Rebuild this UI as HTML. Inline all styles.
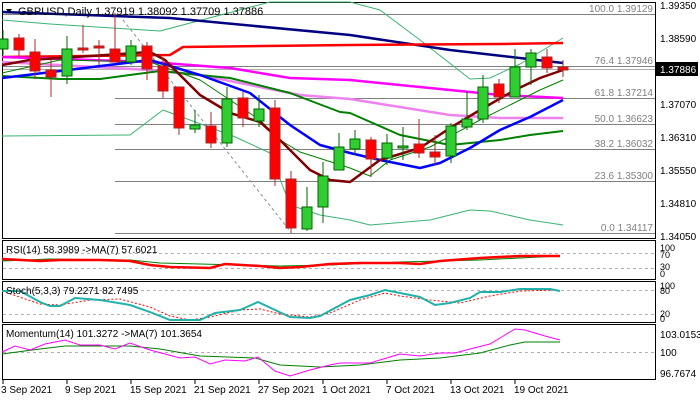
<!DOCTYPE html>
<html><head><meta charset="utf-8"><style>
body{margin:0;background:#fff;}
svg{display:block;font-family:"Liberation Sans",sans-serif;}
</style></head><body>
<svg width="700" height="400" viewBox="0 0 700 400" xmlns="http://www.w3.org/2000/svg">
<rect width="700" height="400" fill="#fff"/>
<!-- panel borders -->
<g fill="none" stroke="#000" stroke-width="1">
<rect x="2.5" y="2.5" width="653" height="236"/>
<rect x="2.5" y="240.5" width="653" height="39"/>
<rect x="2.5" y="281.5" width="653" height="41"/>
<rect x="2.5" y="324.5" width="653" height="55"/>
</g>
<!-- fib lines -->
<g stroke="#808080" stroke-width="1">
<line x1="3" y1="14.5" x2="655" y2="14.5"/>
<line x1="3" y1="66.5" x2="655" y2="66.5"/>
<line x1="3" y1="69.5" x2="655" y2="69.5" stroke="#b0b0b0"/>
<line x1="115" y1="98.5" x2="655" y2="98.5"/>
<line x1="115" y1="124.5" x2="655" y2="124.5"/>
<line x1="115" y1="149.5" x2="655" y2="149.5"/>
<line x1="115" y1="181.5" x2="655" y2="181.5"/>
<line x1="115" y1="233.5" x2="655" y2="233.5"/>
</g>
<line x1="123" y1="20" x2="290" y2="231" stroke="#8090a0" stroke-dasharray="3,3"/>
<g font-size="10" fill="#808080" text-anchor="end">
<text x="653" y="12">100.0 1.39129</text>
<text x="653" y="64">76.4 1.37946</text>
<text x="653" y="96">61.8 1.37214</text>
<text x="653" y="122">50.0 1.36623</text>
<text x="653" y="147">38.2 1.36032</text>
<text x="653" y="179">23.6 1.35300</text>
<text x="653" y="231">0.0 1.34117</text>
</g>
<!-- MA lines -->
<g fill="none" stroke-linejoin="round">
<polyline stroke="#3cb371" stroke-width="1" points="2,20 50,24 160,31 270,2 350,2 380,10 420,40 470,79 490,78 520,64 563,38"/>
<polyline stroke="#3cb371" stroke-width="1" points="2,136 130,135 163,110 233,136 270,153 290,205 320,215 350,220 370,225 430,220 470,210 490,211 530,220 563,225"/>
<polyline stroke="#000080" stroke-width="2.5" points="2,12 170,18 350,35 450,50 563,63"/>
<polyline stroke="#ff0000" stroke-width="2.5" points="2,57 170,55 183,47 350,45 500,44 563,43"/>
<polyline stroke="#ff00ff" stroke-width="2.5" points="2,57 150,62 230,68 290,78 350,80 450,90 500,95 563,98"/>
<polyline stroke="#ee82ee" stroke-width="2.5" points="2,62 150,70 200,75 300,95 350,99 450,115 500,118 563,118"/>
<polyline stroke="#008000" stroke-width="2" points="2,76 60,79 100,79 160,71 230,78 290,93 340,112 350,113 400,135 450,145 500,140 530,135 563,131"/>
<polyline stroke="#008000" stroke-width="1" points="2,73 60,60 150,62 200,80 230,100 260,120 280,140 300,152 350,168 370,176 390,160 430,147 480,120 510,105 540,90 563,80"/>
<polyline stroke="#0000ff" stroke-width="2.5" points="2,78 60,71 150,60 200,75 250,93 290,125 320,145 350,153 380,160 420,168 440,163 470,148 500,130 530,117 563,100"/>
<polyline stroke="#800000" stroke-width="2.5" points="2,65 30,60 150,52 165,60 200,95 230,113 260,122 280,140 310,170 330,180 350,182 380,160 420,148 450,128 480,110 515,90 540,78 563,70"/>
</g>
<!-- candles -->
<g stroke-width="1">
<g stroke="#006400" fill="#32cd32">
<line x1="3" y1="30" x2="3" y2="55"/><rect x="-2" y="39" width="10" height="10"/>
<line x1="67" y1="36" x2="67" y2="84"/><rect x="62" y="49" width="10" height="27"/>
<line x1="131" y1="40" x2="131" y2="65"/><rect x="126" y="46" width="10" height="16"/>
<line x1="195" y1="110" x2="195" y2="133"/><rect x="190" y="125" width="10" height="4"/>
<line x1="227" y1="87" x2="227" y2="147"/><rect x="222" y="99" width="10" height="44"/>
<line x1="259" y1="95" x2="259" y2="127"/><rect x="254" y="109" width="10" height="12"/>
<line x1="307" y1="187" x2="307" y2="231"/><rect x="302" y="207" width="10" height="22"/>
<line x1="323" y1="162" x2="323" y2="223"/><rect x="318" y="176" width="10" height="31"/>
<line x1="339" y1="133" x2="339" y2="170"/><rect x="334" y="147" width="10" height="23"/>
<line x1="355" y1="130" x2="355" y2="155"/><rect x="350" y="139" width="10" height="10"/>
<line x1="387" y1="134" x2="387" y2="165"/><rect x="382" y="143" width="10" height="15"/>
<line x1="403" y1="127" x2="403" y2="160"/><rect x="398" y="146" width="10" height="2"/>
<line x1="451" y1="123" x2="451" y2="163"/><rect x="446" y="126" width="10" height="30"/>
<line x1="467" y1="92" x2="467" y2="130"/><rect x="462" y="119" width="10" height="8"/>
<line x1="483" y1="75" x2="483" y2="123"/><rect x="478" y="87" width="10" height="32"/>
<line x1="515" y1="49" x2="515" y2="97"/><rect x="510" y="67" width="10" height="30"/>
<line x1="531" y1="49" x2="531" y2="85"/><rect x="526" y="53" width="10" height="14"/>
</g>
<g stroke="#a52a2a" fill="#ff0000">
<line x1="19" y1="34" x2="19" y2="56"/><rect x="14" y="38" width="10" height="12"/>
<line x1="35" y1="39" x2="35" y2="79"/><rect x="30" y="52" width="10" height="19"/>
<line x1="51" y1="60" x2="51" y2="97"/><rect x="46" y="70" width="10" height="7"/>
<line x1="83" y1="25" x2="83" y2="53"/><rect x="78" y="48" width="10" height="2"/>
<line x1="99" y1="40" x2="99" y2="65"/><rect x="94" y="46" width="10" height="2"/>
<line x1="115" y1="13" x2="115" y2="62"/><rect x="110" y="49" width="10" height="13"/>
<line x1="147" y1="42" x2="147" y2="80"/><rect x="142" y="46" width="10" height="23"/>
<line x1="163" y1="58" x2="163" y2="98"/><rect x="158" y="66" width="10" height="25"/>
<line x1="179" y1="87" x2="179" y2="135"/><rect x="174" y="87" width="10" height="41"/>
<line x1="211" y1="112" x2="211" y2="148"/><rect x="206" y="126" width="10" height="17"/>
<line x1="243" y1="92" x2="243" y2="127"/><rect x="238" y="98" width="10" height="20"/>
<line x1="275" y1="100" x2="275" y2="186"/><rect x="270" y="108" width="10" height="71"/>
<line x1="291" y1="171" x2="291" y2="233"/><rect x="286" y="179" width="10" height="49"/>
<line x1="371" y1="137" x2="371" y2="177"/><rect x="366" y="140" width="10" height="19"/>
<line x1="419" y1="119" x2="419" y2="158"/><rect x="414" y="144" width="10" height="9"/>
<line x1="435" y1="135" x2="435" y2="165"/><rect x="430" y="152" width="10" height="5"/>
<line x1="499" y1="79" x2="499" y2="103"/><rect x="494" y="84" width="10" height="13"/>
<line x1="547" y1="49" x2="547" y2="73"/><rect x="542" y="57" width="10" height="11"/>
<line x1="563" y1="60" x2="563" y2="77"/><rect x="558" y="67" width="10" height="3"/>
</g>
</g>
<!-- title -->
<polygon points="6,9 12,9 9,13" fill="#000"/>
<text x="18" y="15" font-size="11" fill="#000">GBPUSD,Daily  1.37919 1.38092 1.37709 1.37886</text>
<!-- right axis -->
<g font-size="10" fill="#000">
<text x="660" y="9">1.39350</text>
<text x="660" y="42">1.38590</text>
<text x="660" y="108">1.37070</text>
<text x="660" y="141">1.36310</text>
<text x="660" y="174">1.35550</text>
<text x="660" y="207">1.34810</text>
<text x="660" y="240">1.34050</text>
</g>
<rect x="656" y="62" width="42" height="14" fill="#000"/>
<text x="660" y="73" font-size="10" fill="#fff">1.37886</text>
<!-- RSI -->
<g stroke="#b0b0b0" stroke-dasharray="3,3"><line x1="3" y1="253.5" x2="655" y2="253.5"/><line x1="3" y1="268.5" x2="655" y2="268.5"/>
<line x1="3" y1="290.5" x2="655" y2="290.5"/><line x1="3" y1="314.5" x2="655" y2="314.5"/><line x1="3" y1="352.5" x2="655" y2="352.5"/></g>
<polyline fill="none" stroke="#008000" stroke-width="1" points="2,261 50,259 130,260 160,263 200,264 280,266 330,265 400,262 480,260 520,258 560,256"/>
<polyline fill="none" stroke="#ff0000" stroke-width="2.5" points="2,259 40,261 60,260 100,260 130,261 150,265 170,267 210,268 225,264 260,266 280,268 300,267 330,264 360,263 400,263 420,264 440,261 480,258 520,256 560,256"/>
<text x="6" y="253" font-size="10">RSI(14) 58.3989  -&gt;MA(7) 57.6021</text>
<g font-size="9"><text x="660" y="251">100</text><text x="660" y="258">70</text><text x="660" y="270">30</text><text x="660" y="277">0</text></g>
<!-- Stoch -->
<polyline fill="none" stroke="#ff0000" stroke-width="1" stroke-dasharray="2,2" points="2,291 40,304 60,305 90,300 120,299 150,307 170,316 190,320 210,317 240,310 260,309 280,314 310,317 330,313 360,300 385,293 400,296 430,300 460,303 490,296 520,291 560,290"/>
<polyline fill="none" stroke="#20b2aa" stroke-width="2" points="2,291 20,291 40,302 50,306 60,306 75,298 100,300 130,305 150,312 170,320 200,320 215,313 240,310 258,302 290,317 310,318 320,316 350,300 370,295 385,290 400,293 420,297 435,305 450,303 470,298 480,292 500,292 520,289 550,289 560,291"/>
<text x="6" y="294" font-size="10">Stoch(5,3,3) 79.2271 82.7495</text>
<g font-size="9"><text x="660" y="289">100</text><text x="660" y="294">80</text><text x="660" y="317">20</text><text x="660" y="322">0</text></g>
<!-- Momentum -->
<polyline fill="none" stroke="#008000" stroke-width="1" points="2,354 40,349 65,346 130,346 160,349 200,356 255,358 280,365 320,367 360,365 400,360 440,358 480,353 510,345 525,342 560,342"/>
<polyline fill="none" stroke="#ff00ff" stroke-width="1" points="2,352 15,346 30,350 45,344 65,340 80,345 100,345 115,349 130,343 150,350 180,358 195,357 210,364 225,360 245,361 258,357 275,371 290,376 310,370 330,365 340,363 370,363 390,357 400,354 420,356 440,353 455,353 470,349 490,344 505,335 515,329 525,330 545,336 560,340"/>
<text x="6" y="337" font-size="10">Momentum(14) 101.3272  -&gt;MA(7) 101.3654</text>
<g font-size="10"><text x="660" y="338">103.0153</text><text x="660" y="356">100</text><text x="660" y="377">96.7674</text></g>
<!-- date axis -->
<g stroke="#000"><line x1="3" y1="380" x2="3" y2="384"/><line x1="67" y1="380" x2="67" y2="384"/><line x1="131" y1="380" x2="131" y2="384"/><line x1="195" y1="380" x2="195" y2="384"/><line x1="259" y1="380" x2="259" y2="384"/><line x1="323" y1="380" x2="323" y2="384"/><line x1="387" y1="380" x2="387" y2="384"/><line x1="451" y1="380" x2="451" y2="384"/><line x1="515" y1="380" x2="515" y2="384"/></g>
<g font-size="10"><text x="1" y="393">3 Sep 2021</text><text x="65" y="393">9 Sep 2021</text><text x="130" y="393">15 Sep 2021</text><text x="194" y="393">21 Sep 2021</text><text x="258" y="393">27 Sep 2021</text><text x="322" y="393">1 Oct 2021</text><text x="386" y="393">7 Oct 2021</text><text x="450" y="393">13 Oct 2021</text><text x="514" y="393">19 Oct 2021</text></g>
</svg>
</body></html>
